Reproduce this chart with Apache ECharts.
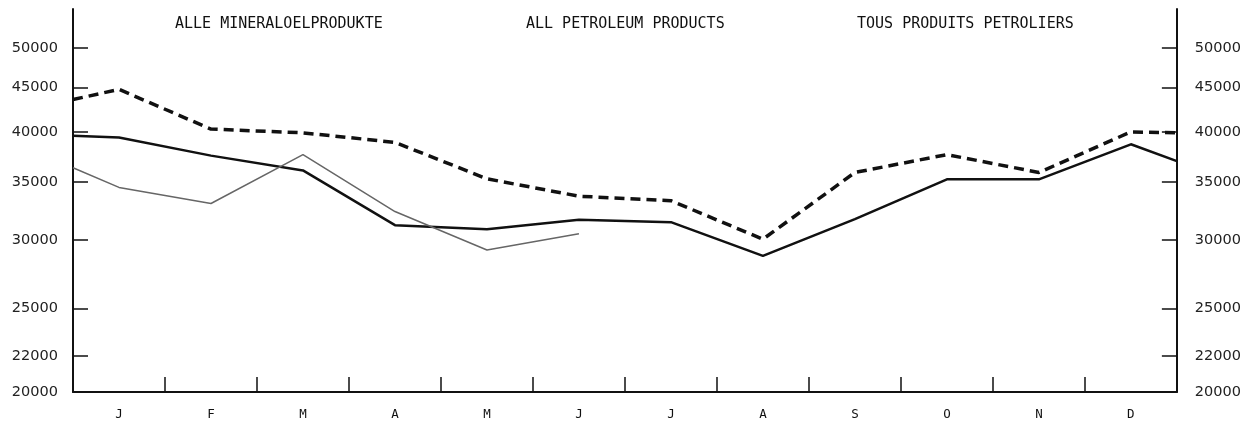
<!DOCTYPE html>
<html>
<head>
<meta charset="utf-8">
<script src="https://cdn.jsdelivr.net/npm/echarts@6/dist/echarts.min.js"></script>
<style>
  html, body { margin: 0; padding: 0; background: #fff; }
  #chart-1 { width: 1244px; height: 421px; }
</style>
</head>
<body>
<div id="chart-1"></div>
<script>
// month letters under the x axis
var months = ['J', 'F', 'M', 'A', 'M', 'J', 'J', 'A', 'S', 'O', 'N', 'D'];
// y axis labels (log scale)
var yTicks = [20000, 22000, 25000, 30000, 35000, 40000, 45000, 50000];

// first value = start of year (left edge), then Jan..Dec, last = end of year (right edge)
var dottedLine = [43600, 44800, 40300, 39900, 38900, 35300, 33700, 33300, 30050, 35900, 37650, 35900, 40000, 39900];
var thickLine  = [39600, 39400, 37550, 36100, 31200, 30850, 31650, 31450, 28750, 31700, 35250, 35250, 38700, 37000];
// current year, only up to June
var thinLine   = [36350, 34500, 33050, 37650, 32350, 29200, 30500];

var titles = ['ALLE MINERALOELPRODUKTE', 'ALL PETROLEUM PRODUCTS', 'TOUS PRODUITS PETROLIERS'];

function toPoints(vals) {
    // x: 0 = left edge, month centres at i-0.5, 12 = right edge
    return vals.map(function (v, i) {
        var x = i === 0 ? 0 : (i === 13 ? 12 : i - 0.5);
        return [x, v];
    });
}

var monthTicks = [];
var monthCentres = [];
for (var m = 0; m < 12; m++) {
    monthCentres.push(m + 0.5);
    if (m > 0) monthTicks.push(m);
}

var plotFont = 'DejaVu Sans Mono';

function yAxisOf(pos) {
    return {
        type: 'log',
        logBase: 10,
        position: pos,
        min: 20000,
        max: 55500,
        splitLine: { show: false },
        axisLine: { show: true, lineStyle: { color: '#111', width: 2 } },
        axisTick: {
            show: true,
            inside: true,
            length: 15,
            customValues: yTicks.slice(1),
            lineStyle: { color: '#111', width: 1.5 }
        },
        axisLabel: {
            customValues: yTicks,
            margin: pos === 'left' ? 15 : 18,
            color: '#222',
            fontFamily: 'DejaVu Sans',
            fontSize: 14.5,
            formatter: function (v) { return String(Math.round(v)); }
        }
    };
}

var option_1 = {
    animation: false,
    backgroundColor: '#fff',
    title: titles.map(function (t, i) {
        return {
            text: t,
            left: [175, 526, 857][i],
            top: 17,
            padding: 0,
            textStyle: {
                fontFamily: plotFont,
                fontWeight: 'normal',
                fontSize: 15,
                color: '#111'
            }
        };
    }),
    grid: {
        left: 73,
        right: 65,
        top: 9,
        bottom: 28
    },
    xAxis: {
        type: 'value',
        min: 0,
        max: 12,
        splitLine: { show: false },
        axisLine: { show: true, lineStyle: { color: '#111', width: 2 } },
        axisTick: {
            show: true,
            inside: true,
            length: 15,
            customValues: monthTicks,
            lineStyle: { color: '#111', width: 1.5 }
        },
        axisLabel: {
            customValues: monthCentres,
            margin: 16,
            color: '#111',
            fontFamily: plotFont,
            fontSize: 12.5,
            formatter: function (v) { return months[Math.floor(v)]; }
        }
    },
    yAxis: [yAxisOf('left'), yAxisOf('right')],
    series: [
        {
            name: 'dotted',
            type: 'line',
            symbol: 'none',
            data: toPoints(dottedLine),
            lineStyle: { color: '#111', width: 3.5, type: [10, 6] }
        },
        {
            name: 'thick',
            type: 'line',
            symbol: 'none',
            data: toPoints(thickLine),
            lineStyle: { color: '#111', width: 2.5 }
        },
        {
            name: 'thin',
            type: 'line',
            symbol: 'none',
            data: toPoints(thinLine),
            lineStyle: { color: '#666', width: 1.5 }
        }
    ]
};

var myChart_1 = echarts.init(document.getElementById('chart-1'));
myChart_1.setOption(option_1);
</script>
</body>
</html>
